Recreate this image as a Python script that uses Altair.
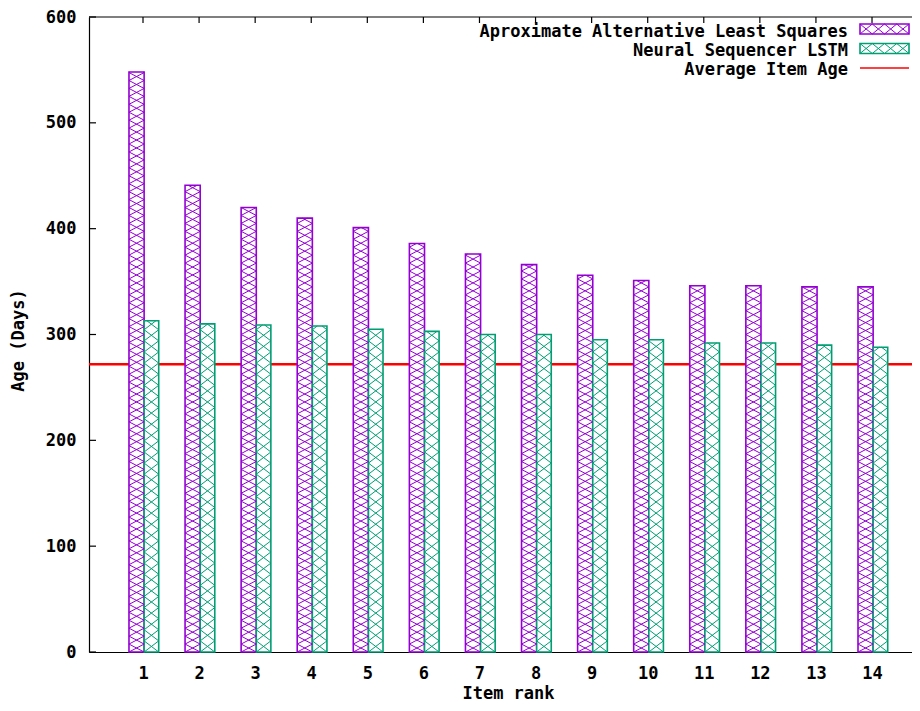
import altair as alt
import pandas as pd

# ---------------- data ----------------
ranks = list(range(1, 15))
als_age = [548, 441, 420, 410, 401, 386, 376, 366, 356, 351, 346, 346, 345, 345]
lstm_age = [313, 310, 309, 308, 305, 303, 300, 300, 295, 295, 292, 292, 290, 288]
avg_item_age = 272
series_names = ["Aproximate Alternative Least Squares", "Neural Sequencer LSTM", "Average Item Age"]
series_colors = ["#9400D3", "#009E73", "#FF0000"]
y_ticks = [0, 100, 200, 300, 400, 500, 600]

# ---------------- layout / style ----------------
PAD_TOP = 9
PLOT_W, PLOT_H = 823, 635
X_DOMAIN = [0.037, 14.713]
Y_DOMAIN = [0, 600]
BAR_OFFSETS = [(-0.25, 0.02), (0.02, 0.28)]
HATCH_H = [7.5, 10.5]  # hatch cell height in data units
FONT = "DejaVu Sans Mono"
FS = 17

color_scale = alt.Scale(domain=series_names, range=series_colors)

# bars and hatch lines derived from the values
bar_rows, hatch_rows = [], []
for s, vals in enumerate([als_age, lstm_age]):
    lo, hi = BAR_OFFSETS[s]
    h = HATCH_H[s]
    for r, v in zip(ranks, vals):
        xl, xr = r + lo, r + hi
        bar_rows.append(dict(series=series_names[s], x=xl, x2=xr, y=0, y2=v))
        k = 0
        while k * h < v:
            y0 = k * h
            top = min(y0 + h, v)
            p = top - y0
            if p >= h - 1e-9:
                hatch_rows.append(dict(series=series_names[s], x=xl, x2=xr, y=y0, y2=y0 + h))
                hatch_rows.append(dict(series=series_names[s], x=xl, x2=xr, y=y0 + h, y2=y0))
            else:
                f = p / h
                hatch_rows.append(dict(series=series_names[s], x=xl, x2=xl + (xr - xl) * f, y=y0, y2=top))
                hatch_rows.append(dict(series=series_names[s], x=xl + (xr - xl) * (1 - f), x2=xr, y=top, y2=y0))
            k += 1

bars_df = pd.DataFrame(bar_rows)
hatch_df = pd.DataFrame(hatch_rows)
avg_df = pd.DataFrame({"series": [series_names[2]], "y": [avg_item_age]})
rank_df = pd.DataFrame({"rank": ranks})
ytick_df = pd.DataFrame({"v": y_ticks})

xs = alt.Scale(domain=X_DOMAIN, nice=False, zero=False)
ys = alt.Scale(domain=Y_DOMAIN, nice=False)

x_axis = alt.Axis(values=ranks, format="d", ticks=False, tickSize=0, grid=False,
                  labelPadding=21, labelBaseline="middle", labelFont=FONT, labelFontSize=FS,
                  labelFontWeight="bold", labelColor="black", domainColor="black", domainWidth=1.2,
                  title="Item rank", titleFont=FONT, titleFontSize=FS, titleFontWeight="bold",
                  titleColor="black", titleX=419, titleY=46, titleAlign="center",
                  titleBaseline="alphabetic")
y_axis = alt.Axis(values=y_ticks, format="d", ticks=False, tickSize=0, grid=False,
                  labelPadding=13, labelFont=FONT, labelFontSize=FS, labelFontWeight="bold",
                  labelColor="black", domainColor="black", domainWidth=1.2,
                  title="Age (Days)", titleFont=FONT, titleFontSize=FS, titleFontWeight="bold",
                  titleColor="black", titleX=-62, titleY=323, titleAngle=270,
                  titleAlign="center", titleBaseline="bottom")

avg_line = alt.Chart(avg_df).mark_rule(strokeWidth=2.5).encode(
    y=alt.Y("y:Q", scale=ys, axis=y_axis),
    x=alt.value(0), x2=alt.value(PLOT_W),
    color=alt.Color("series:N", scale=color_scale, legend=None),
)

bars = alt.Chart(bars_df).mark_rect(fill="white", strokeWidth=1.6).encode(
    x=alt.X("x:Q", scale=xs, axis=x_axis),
    x2="x2:Q",
    y=alt.Y("y:Q", scale=ys),
    y2="y2:Q",
    stroke=alt.Stroke("series:N", scale=color_scale, legend=None),
)

hatch = alt.Chart(hatch_df).mark_rule(strokeWidth=1.0).encode(
    x=alt.X("x:Q", scale=xs),
    x2="x2:Q",
    y=alt.Y("y:Q", scale=ys),
    y2="y2:Q",
    color=alt.Color("series:N", scale=color_scale, legend=None),
)

top_border = alt.Chart(rank_df.head(1)).mark_rule(color="black", strokeWidth=1.2).encode(
    x=alt.value(0), x2=alt.value(PLOT_W), y=alt.value(0)
)
top_ticks = alt.Chart(rank_df).mark_rule(color="black", strokeWidth=1.2).encode(
    x=alt.X("rank:Q", scale=xs), y=alt.value(0), y2=alt.value(6)
)
left_ticks = alt.Chart(ytick_df).mark_rule(color="black", strokeWidth=1.2).encode(
    y=alt.Y("v:Q", scale=ys), x=alt.value(0), x2=alt.value(7)
)

# ---------------- legend (gnuplot style: label then sample) ----------------
LEG_TEXT_X = 759
LEG_ROW_Y = [14.5, 34, 53]
LEG_BOX_X0, LEG_BOX_X1 = 771, 820
LEG_BOX_H = 10
leg_text_df = pd.DataFrame({"series": series_names, "px": [LEG_TEXT_X] * 3, "py": LEG_ROW_Y})
leg_text = alt.Chart(leg_text_df).mark_text(align="right", baseline="middle", font=FONT,
                                            fontSize=FS, fontWeight="bold", color="black").encode(
    x=alt.X("px:Q", scale=None), y=alt.Y("py:Q", scale=None), text="series:N"
)
box_rows, box_hatch = [], []
n_cells = 4
cw = (LEG_BOX_X1 - LEG_BOX_X0) / n_cells
for s in range(2):
    yc = LEG_ROW_Y[s] - 2.5
    y0, y1 = yc - LEG_BOX_H / 2, yc + LEG_BOX_H / 2
    box_rows.append(dict(series=series_names[s], px=LEG_BOX_X0, px2=LEG_BOX_X1, py=y0, py2=y1))
    for c in range(n_cells):
        a = LEG_BOX_X0 + c * cw
        box_hatch.append(dict(series=series_names[s], px=a, px2=a + cw, py=y0, py2=y1))
        box_hatch.append(dict(series=series_names[s], px=a, px2=a + cw, py=y1, py2=y0))
leg_box = alt.Chart(pd.DataFrame(box_rows)).mark_rect(fill="white", strokeWidth=1.6).encode(
    x=alt.X("px:Q", scale=None), x2="px2:Q", y=alt.Y("py:Q", scale=None), y2="py2:Q",
    stroke=alt.Stroke("series:N", scale=color_scale, legend=None),
)
leg_hatch = alt.Chart(pd.DataFrame(box_hatch)).mark_rule(strokeWidth=1.0).encode(
    x=alt.X("px:Q", scale=None), x2="px2:Q", y=alt.Y("py:Q", scale=None), y2="py2:Q",
    color=alt.Color("series:N", scale=color_scale, legend=None),
)
leg_line_df = pd.DataFrame({"series": [series_names[2]], "px": [LEG_BOX_X0], "px2": [LEG_BOX_X1],
                            "py": [LEG_ROW_Y[2] - 2]})
leg_line = alt.Chart(leg_line_df).mark_rule(strokeWidth=1.5).encode(
    x=alt.X("px:Q", scale=None), x2="px2:Q", y=alt.Y("py:Q", scale=None),
    color=alt.Color("series:N", scale=color_scale, legend=None),
)

chart = alt.layer(
    avg_line, bars, hatch, top_border, top_ticks, left_ticks,
    leg_text, leg_box, leg_hatch, leg_line,
).properties(
    width=PLOT_W, height=PLOT_H,
    autosize=alt.AutoSizeParams(type="none"),
    padding={"left": 81, "top": PAD_TOP, "right": 0, "bottom": 51},
    background="white",
).configure_view(stroke=None)

chart.save("out.html", embed_options={"renderer": "svg", "actions": False})
